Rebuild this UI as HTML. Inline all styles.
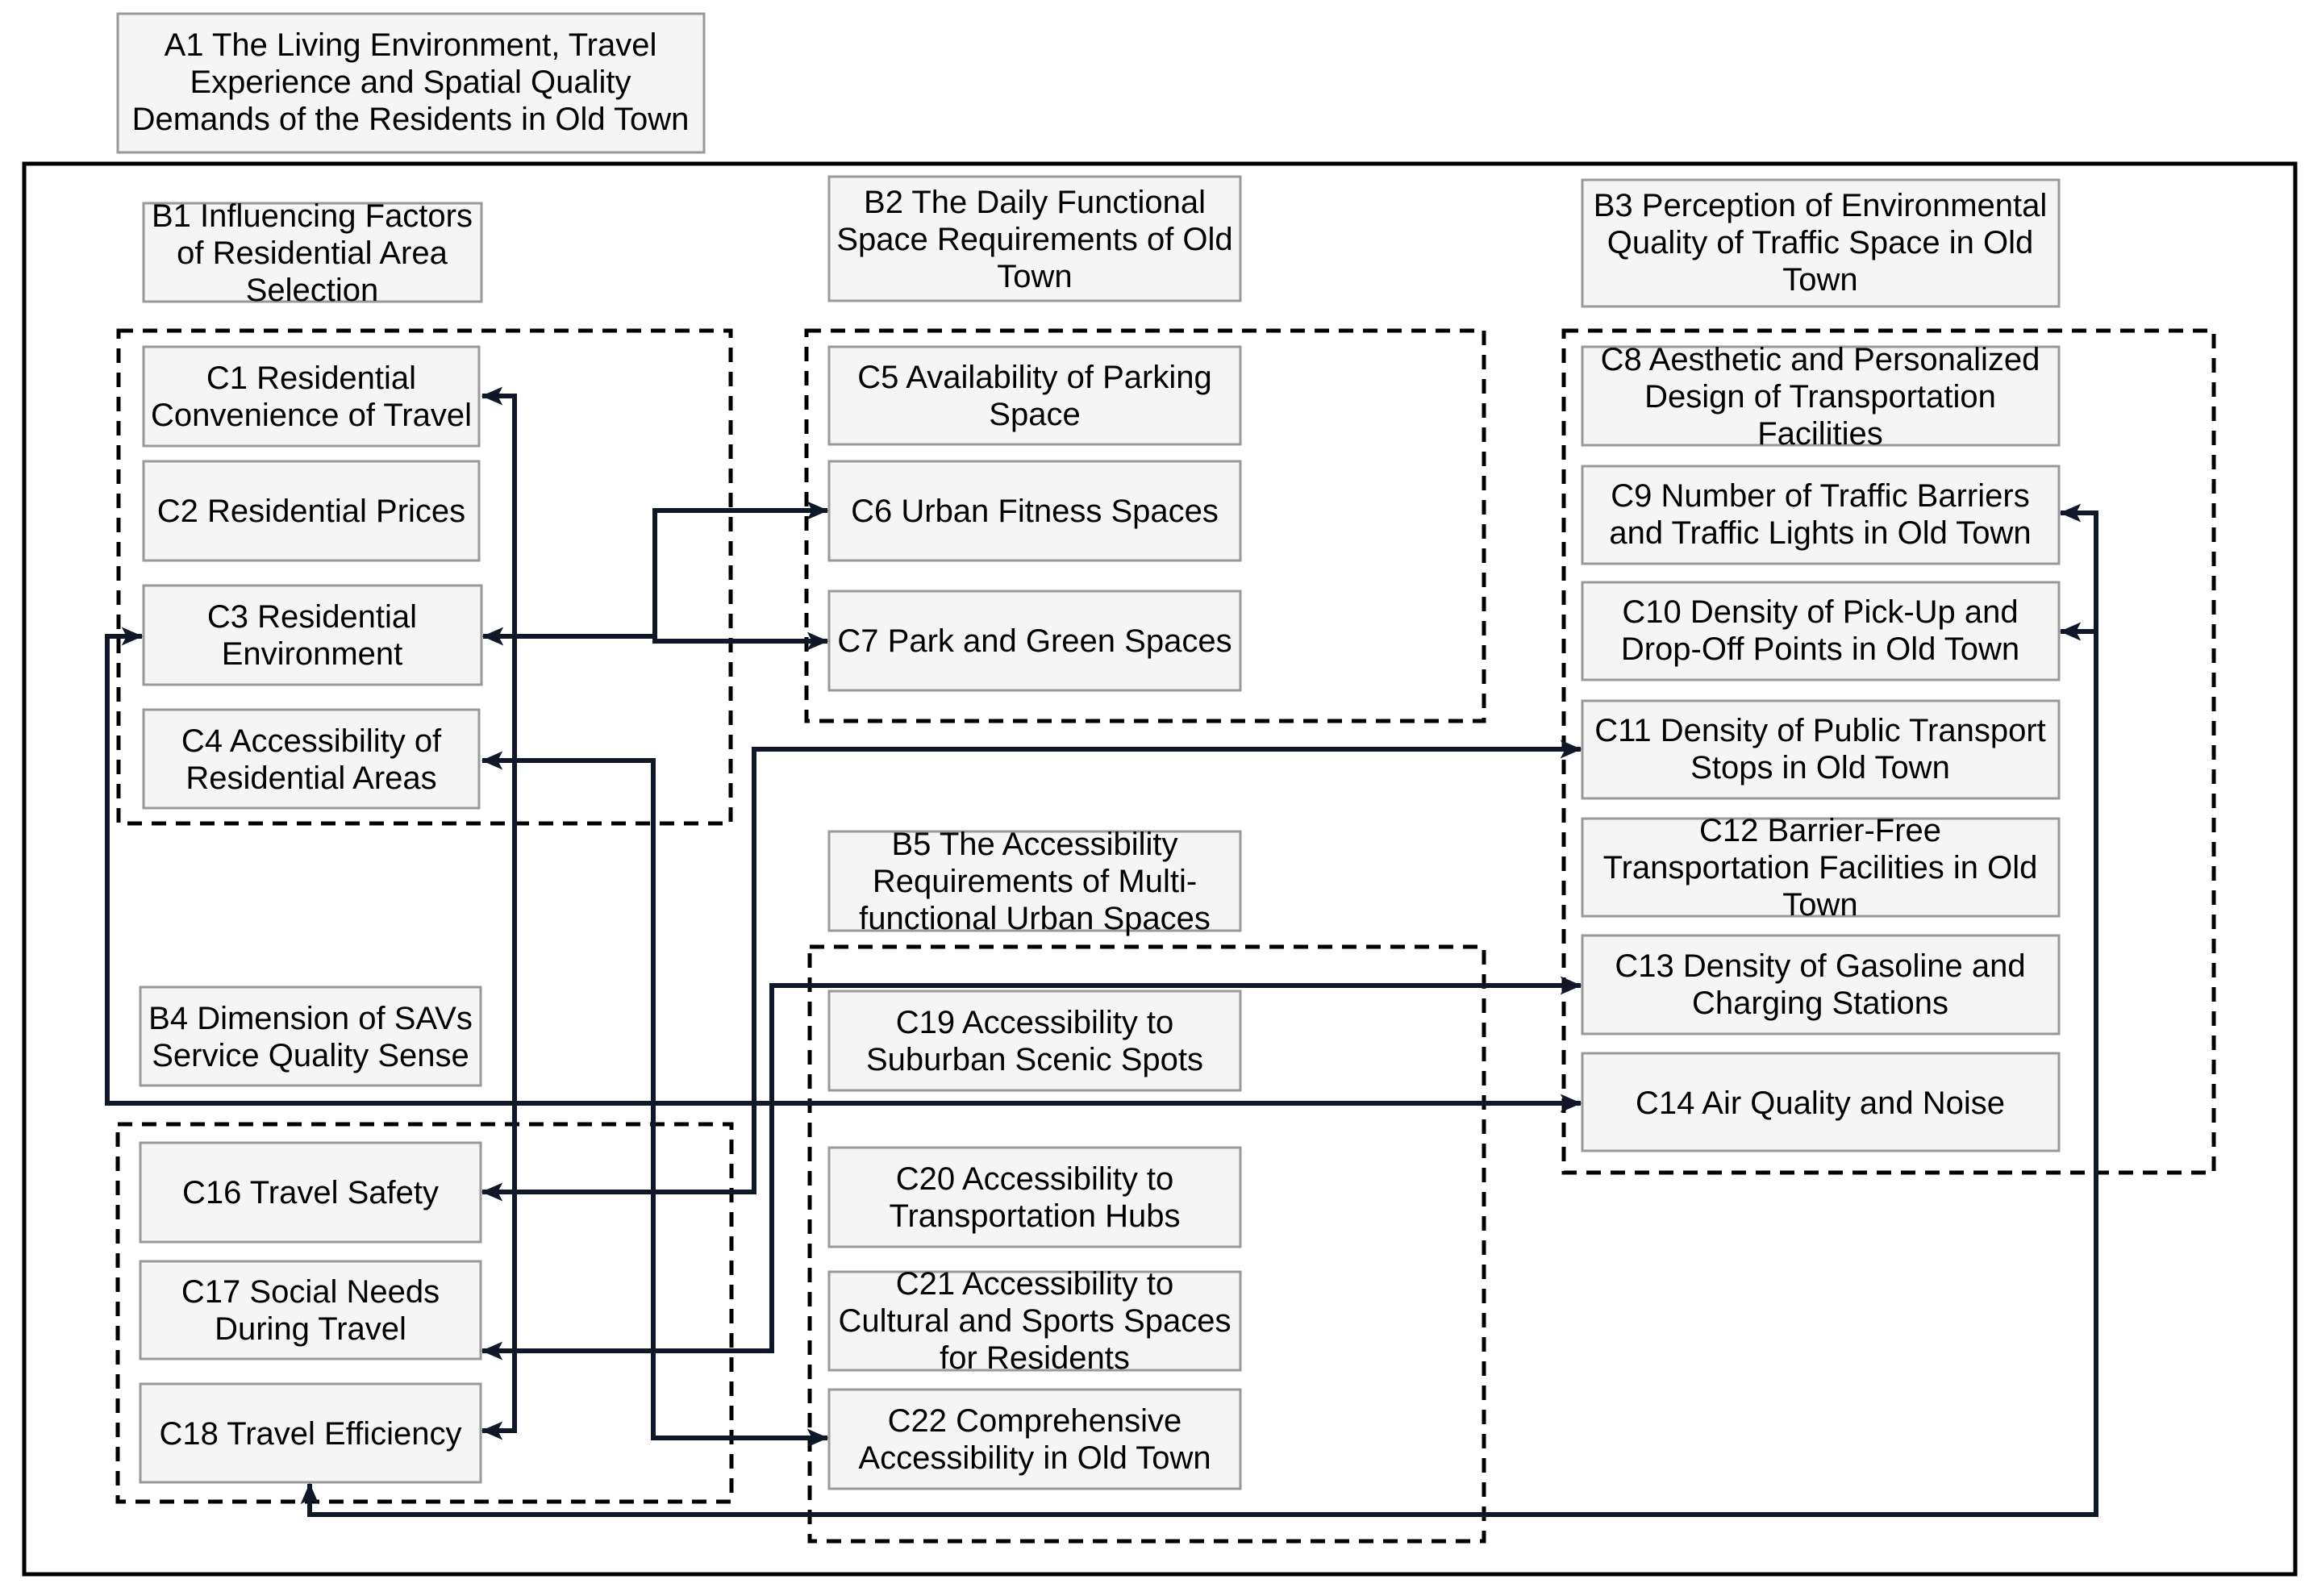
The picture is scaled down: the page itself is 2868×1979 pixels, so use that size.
<!DOCTYPE html>
<html><head><meta charset="utf-8"><style>
html,body{margin:0;padding:0;background:#fff;}
svg{display:block;}
text{font-family:"Liberation Sans",Arial,sans-serif;font-size:40px;fill:#000;text-anchor:middle;}
.b{fill:#f5f5f5;stroke:#999;stroke-width:3;}
.d{fill:none;stroke:#000;stroke-width:5;stroke-dasharray:18 12;}
.c{fill:none;stroke:#0f1729;stroke-width:6;}
</style></head><body>
<svg width="2868" height="1979" viewBox="0 0 2868 1979" xmlns="http://www.w3.org/2000/svg">
<defs>
<marker id="a" markerWidth="5" markerHeight="5" refX="4.2" refY="2.5" orient="auto-start-reverse" markerUnits="strokeWidth">
<path d="M0,0.6 L4.4,2.5 L0,4.4 L1,2.5 Z" fill="#0f1729"/>
</marker>
</defs>
<rect x="30" y="203" width="2816" height="1749" fill="none" stroke="#000" stroke-width="5"/>
<rect class="d" x="147" y="410" width="759" height="611"/>
<rect class="d" x="1000" y="410" width="840" height="484"/>
<rect class="d" x="1004" y="1174" width="836" height="737"/>
<rect class="d" x="146" y="1394" width="761" height="468"/>
<rect class="d" x="1939" y="410" width="806" height="1044"/>

<rect class="b" x="146" y="17" width="727" height="172"/>
<text x="509" y="69">A1 The Living Environment, Travel</text>
<text x="509" y="115">Experience and Spatial Quality</text>
<text x="509" y="161">Demands of the Residents in Old Town</text>

<rect class="b" x="178" y="252" width="419" height="122"/>
<text x="387" y="281">B1 Influencing Factors</text>
<text x="387" y="327">of Residential Area</text>
<text x="387" y="373">Selection</text>

<rect class="b" x="1028" y="219" width="510" height="154"/>
<text x="1283" y="264">B2 The Daily Functional</text>
<text x="1283" y="310">Space Requirements of Old</text>
<text x="1283" y="356">Town</text>

<rect class="b" x="1962" y="223" width="591" height="157"/>
<text x="2257" y="268">B3 Perception of Environmental</text>
<text x="2257" y="314">Quality of Traffic Space in Old</text>
<text x="2257" y="360">Town</text>

<rect class="b" x="174" y="1224" width="422" height="122"/>
<text x="385" y="1276">B4 Dimension of SAVs</text>
<text x="385" y="1322">Service Quality Sense</text>

<rect class="b" x="1028" y="1031" width="510" height="123"/>
<text x="1283" y="1060">B5 The Accessibility</text>
<text x="1283" y="1106">Requirements of Multi-</text>
<text x="1283" y="1152">functional Urban Spaces</text>

<rect class="b" x="178" y="430" width="416" height="123"/>
<text x="386" y="482">C1 Residential</text>
<text x="386" y="528">Convenience of Travel</text>
<rect class="b" x="178" y="572" width="416" height="123"/>
<text x="386" y="647">C2 Residential Prices</text>
<rect class="b" x="178" y="726" width="419" height="123"/>
<text x="387" y="778">C3 Residential</text>
<text x="387" y="824">Environment</text>
<rect class="b" x="178" y="880" width="416" height="122"/>
<text x="386" y="932">C4 Accessibility of</text>
<text x="386" y="978">Residential Areas</text>

<rect class="b" x="1028" y="430" width="510" height="121"/>
<text x="1283" y="481">C5 Availability of Parking</text>
<text x="1283" y="527">Space</text>
<rect class="b" x="1028" y="572" width="510" height="123"/>
<text x="1283" y="647">C6 Urban Fitness Spaces</text>
<rect class="b" x="1028" y="733" width="510" height="123"/>
<text x="1283" y="808">C7 Park and Green Spaces</text>

<rect class="b" x="1962" y="430" width="591" height="122"/>
<text x="2257" y="459">C8 Aesthetic and Personalized</text>
<text x="2257" y="505">Design of Transportation</text>
<text x="2257" y="551">Facilities</text>
<rect class="b" x="1962" y="578" width="591" height="121"/>
<text x="2257" y="628">C9 Number of Traffic Barriers</text>
<text x="2257" y="674">and Traffic Lights in Old Town</text>
<rect class="b" x="1962" y="722" width="591" height="121"/>
<text x="2257" y="772">C10 Density of Pick-Up and</text>
<text x="2257" y="818">Drop-Off Points in Old Town</text>
<rect class="b" x="1962" y="869" width="591" height="121"/>
<text x="2257" y="919">C11 Density of Public Transport</text>
<text x="2257" y="965">Stops in Old Town</text>
<rect class="b" x="1962" y="1015" width="591" height="121"/>
<text x="2257" y="1043">C12 Barrier-Free</text>
<text x="2257" y="1089">Transportation Facilities in Old</text>
<text x="2257" y="1135">Town</text>
<rect class="b" x="1962" y="1160" width="591" height="122"/>
<text x="2257" y="1211">C13 Density of Gasoline and</text>
<text x="2257" y="1257">Charging Stations</text>
<rect class="b" x="1962" y="1306" width="591" height="121"/>
<text x="2257" y="1381">C14 Air Quality and Noise</text>

<rect class="b" x="174" y="1417" width="422" height="123"/>
<text x="385" y="1492">C16 Travel Safety</text>
<rect class="b" x="174" y="1564" width="422" height="121"/>
<text x="385" y="1615">C17 Social Needs</text>
<text x="385" y="1661">During Travel</text>
<rect class="b" x="174" y="1716" width="422" height="122"/>
<text x="385" y="1791">C18 Travel Efficiency</text>

<rect class="b" x="1028" y="1229" width="510" height="123"/>
<text x="1283" y="1281">C19 Accessibility to</text>
<text x="1283" y="1327">Suburban Scenic Spots</text>
<rect class="b" x="1028" y="1423" width="510" height="123"/>
<text x="1283" y="1475">C20 Accessibility to</text>
<text x="1283" y="1521">Transportation Hubs</text>
<rect class="b" x="1028" y="1577" width="510" height="122"/>
<text x="1283" y="1605">C21 Accessibility to</text>
<text x="1283" y="1651">Cultural and Sports Spaces</text>
<text x="1283" y="1697">for Residents</text>
<rect class="b" x="1028" y="1723" width="510" height="123"/>
<text x="1283" y="1775">C22 Comprehensive</text>
<text x="1283" y="1821">Accessibility in Old Town</text>

<path class="c" d="M598,491 H638 V1774 H598" marker-start="url(#a)" marker-end="url(#a)"/>
<path class="c" d="M812,789 H599" marker-end="url(#a)"/>
<path class="c" d="M812,789 V633 H1026" marker-end="url(#a)"/>
<path class="c" d="M812,789 V795 H1026" marker-end="url(#a)"/>
<path class="c" d="M598,943 H810 V1783 H1026" marker-start="url(#a)" marker-end="url(#a)"/>
<path class="c" d="M598,1478 H935 V929 H1960" marker-start="url(#a)" marker-end="url(#a)"/>
<path class="c" d="M598,1675 H957 V1222 H1960" marker-start="url(#a)" marker-end="url(#a)"/>
<path class="c" d="M176,789 H133 V1368 H1960" marker-start="url(#a)" marker-end="url(#a)"/>
<path class="c" d="M2555,636 H2599 V1878 H384 V1840" marker-start="url(#a)" marker-end="url(#a)"/>
<path class="c" d="M2599,783 H2555" marker-end="url(#a)"/>
</svg>
</body></html>
